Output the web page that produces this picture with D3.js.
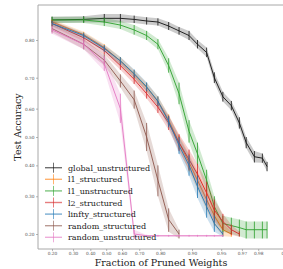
<!DOCTYPE html>
<html lang="en">
<head>
<meta charset="UTF-8">
<title>Test Accuracy vs Fraction of Pruned Weights</title>
<style>
    body { margin: 0; background: white; }
    svg { display: block; }
    .axis text { font-family: "DejaVu Serif", serif; font-size: 4.3px; fill: #555; }
    .axis line { stroke: #888; stroke-width: 0.6px; }
    .spine { stroke: #a8a8a8; stroke-width: 1px; }
    .label { font-family: "DejaVu Serif", serif; font-size: 9.5px; fill: #222; }
    .legend text { font-family: "DejaVu Serif", serif; font-size: 8px; fill: #222; }
</style>
<script src="https://d3js.org/d3.v7.min.js"></script>
</head>
<body>
<script>
    // fraction of pruned weights at every pruning round
    const fractions = [0.2, 0.36, 0.488, 0.59, 0.672, 0.738, 0.79, 0.832, 0.866, 0.893,
                       0.912, 0.929, 0.941, 0.952, 0.961, 0.968, 0.973, 0.978, 0.982, 0.984];

    const globalUnstructured = [0.842, 0.843, 0.845, 0.845, 0.843, 0.84, 0.838, 0.83, 0.82, 0.81,
                                0.79, 0.77, 0.70, 0.64, 0.61, 0.55, 0.48, 0.43, 0.425, 0.396];
    const globalErr = [0.006, 0.006, 0.008, 0.008, 0.007, 0.007, 0.007, 0.008, 0.008, 0.01,
                       0.01, 0.012, 0.016, 0.016, 0.016, 0.02, 0.02, 0.02, 0.016, 0.016];

    const l1Structured = [0.838, 0.812, 0.782, 0.748, 0.71, 0.67, 0.625, 0.56, 0.48, 0.41,
                          0.35, 0.29, 0.245, 0.21, 0.2];
    const l1StructuredErr = [0.005, 0.006, 0.008, 0.01, 0.012, 0.014, 0.016, 0.02, 0.025, 0.03,
                             0.03, 0.03, 0.025, 0.015, 0.006];

    const l1Unstructured = [0.842, 0.842, 0.838, 0.832, 0.822, 0.81, 0.79, 0.735, 0.65, 0.52,
                            0.44, 0.35, 0.27, 0.225, 0.22, 0.215, 0.21, 0.21, 0.21, 0.21];
    const l1UnstructuredErr = [0.006, 0.006, 0.008, 0.008, 0.01, 0.01, 0.012, 0.02, 0.035, 0.04,
                               0.04, 0.035, 0.03, 0.02, 0.02, 0.02, 0.02, 0.02, 0.02, 0.02];

    const l2Structured = [0.835, 0.805, 0.775, 0.735, 0.695, 0.65, 0.605, 0.55, 0.48, 0.42,
                          0.37, 0.31, 0.26, 0.23, 0.21, 0.2];
    const l2StructuredErr = [0.006, 0.008, 0.01, 0.012, 0.014, 0.016, 0.02, 0.025, 0.03, 0.035,
                             0.035, 0.035, 0.03, 0.02, 0.012, 0.006];

    const linftyStructured = [0.835, 0.81, 0.78, 0.748, 0.712, 0.672, 0.625, 0.555, 0.47, 0.4,
                              0.33, 0.27, 0.225, 0.2];
    const linftyStructuredErr = [0.005, 0.006, 0.008, 0.01, 0.012, 0.014, 0.016, 0.02, 0.03, 0.035,
                                 0.035, 0.03, 0.02, 0.006];

    const randomStructured = [0.825, 0.79, 0.75, 0.69, 0.63, 0.50, 0.35, 0.235, 0.2];
    const randomStructuredErr = [0.008, 0.012, 0.015, 0.02, 0.03, 0.05, 0.05, 0.03, 0.01];

    const randomUnstructured = [0.822, 0.79, 0.74, 0.6, 0.2, 0.196, 0.196, 0.196, 0.196, 0.196,
                                0.196, 0.196, 0.196, 0.196];
    const randomUnstructuredErr = [0.008, 0.012, 0.02, 0.05, 0.01, 0.002, 0.002, 0.002, 0.002, 0.002,
                                   0.002, 0.002, 0.002, 0.002];

    const xTicks = [0.2, 0.3, 0.4, 0.5, 0.6, 0.7, 0.8, 0.9, 0.95, 0.97, 0.98, 0.99];
    const yTicks = [0.2, 0.3, 0.4, 0.5, 0.6, 0.7, 0.8];

    const series = [
        {name: "global_unstructured", color: "#111111", mean: globalUnstructured, err: globalErr},
        {name: "l1_structured", color: "#ff7f0e", mean: l1Structured, err: l1StructuredErr},
        {name: "l1_unstructured", color: "#2ca02c", mean: l1Unstructured, err: l1UnstructuredErr},
        {name: "l2_structured", color: "#d62728", mean: l2Structured, err: l2StructuredErr},
        {name: "linfty_structured", color: "#1f77b4", mean: linftyStructured, err: linftyStructuredErr},
        {name: "random_structured", color: "#8c564b", mean: randomStructured, err: randomStructuredErr},
        {name: "random_unstructured", color: "#e377c2", mean: randomUnstructured, err: randomUnstructuredErr}
    ];

    const width = 283, height = 269;
    const plotLeft = 38, plotRight = 300, plotTop = 5, plotBottom = 249;

    const logit = p => Math.log(p / (1 - p));

    // both axes are on a logit scale
    const xs = d3.scaleLinear().domain([logit(0.2), logit(0.9)]).range([52, 192]);
    const ys = d3.scaleLinear().domain([logit(0.2), logit(0.8)]).range([234, 40]);
    const x = p => xs(logit(p));
    const y = p => ys(logit(p));

    const svg = d3.select("body").append("svg")
        .attr("width", width)
        .attr("height", height);

    svg.append("defs").append("clipPath").attr("id", "plot")
        .append("rect").attr("x", plotLeft).attr("y", plotTop)
        .attr("width", plotRight - plotLeft).attr("height", plotBottom - plotTop);

    const plot = svg.append("g").attr("clip-path", "url(#plot)");

    series.forEach(s => {
        const pts = s.mean.map((m, i) => ({f: fractions[i], m: m, e: s.err[i]}));
        const g = plot.append("g");

        g.append("path")
            .datum(pts)
            .attr("fill", s.color)
            .attr("fill-opacity", 0.22)
            .attr("d", d3.area()
                .x(d => x(d.f))
                .y0(d => y(d.m - d.e))
                .y1(d => y(d.m + d.e)));

        g.append("path")
            .datum(pts)
            .attr("fill", "none")
            .attr("stroke", s.color)
            .attr("stroke-width", 0.9)
            .attr("d", d3.line().x(d => x(d.f)).y(d => y(d.m)));

        g.selectAll("line.bar")
            .data(pts)
            .enter()
            .append("line")
            .attr("class", "bar")
            .attr("x1", d => x(d.f))
            .attr("x2", d => x(d.f))
            .attr("y1", d => y(d.m - d.e))
            .attr("y2", d => y(d.m + d.e))
            .attr("stroke", s.color)
            .attr("stroke-width", 0.8);
    });

    // spines
    svg.append("line").attr("class", "spine").attr("x1", plotLeft).attr("x2", plotLeft).attr("y1", plotTop).attr("y2", plotBottom);
    svg.append("line").attr("class", "spine").attr("x1", plotLeft).attr("x2", plotRight).attr("y1", plotBottom).attr("y2", plotBottom);
    svg.append("line").attr("class", "spine").attr("x1", plotLeft).attr("x2", plotRight).attr("y1", plotTop).attr("y2", plotTop);
    svg.append("line").attr("class", "spine").attr("x1", plotRight).attr("x2", plotRight).attr("y1", plotTop).attr("y2", plotBottom);

    const xAxis = svg.append("g")
        .attr("class", "axis")
        .attr("transform", `translate(0,${plotBottom})`)
        .call(d3.axisBottom(xs)
            .tickValues(xTicks.map(logit))
            .tickFormat((d, i) => xTicks[i].toFixed(2))
            .tickSize(2)
            .tickPadding(1));
    xAxis.select(".domain").remove();

    const yAxis = svg.append("g")
        .attr("class", "axis")
        .attr("transform", `translate(${plotLeft},0)`)
        .call(d3.axisLeft(ys)
            .tickValues(yTicks.map(logit))
            .tickFormat((d, i) => yTicks[i].toFixed(2))
            .tickSize(2)
            .tickPadding(1.5));
    yAxis.select(".domain").remove();

    svg.append("text")
        .attr("class", "label")
        .attr("x", 161)
        .attr("y", 265.5)
        .attr("text-anchor", "middle")
        .text("Fraction of Pruned Weights");

    svg.append("text")
        .attr("class", "label")
        .attr("transform", "translate(21,127) rotate(-90)")
        .attr("text-anchor", "middle")
        .text("Test Accuracy");

    // legend
    const legend = svg.append("g").attr("class", "legend");
    series.forEach((s, i) => {
        const ly = 167.7 + i * 11.6;
        const item = legend.append("g").attr("transform", `translate(0,${ly})`);
        item.append("line")
            .attr("x1", 45).attr("x2", 62).attr("y1", 0).attr("y2", 0)
            .attr("stroke", s.color).attr("stroke-width", 1.4).attr("stroke-opacity", 0.6);
        item.append("line")
            .attr("x1", 53.5).attr("x2", 53.5).attr("y1", -5).attr("y2", 5)
            .attr("stroke", s.color).attr("stroke-width", 1).attr("stroke-opacity", 0.6);
        item.append("text")
            .attr("x", 68)
            .attr("y", 3)
            .text(s.name);
    });
</script>
</body>
</html>
